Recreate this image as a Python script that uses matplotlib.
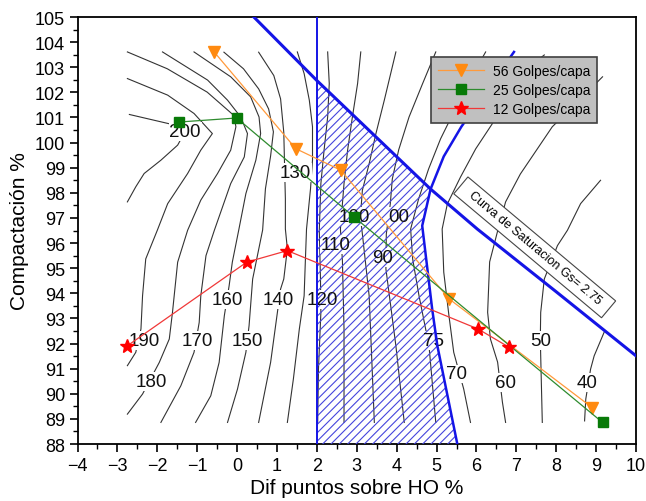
import matplotlib.pyplot as plt
from matplotlib.patches import Polygon
from matplotlib.ticker import MultipleLocator

plt.rcParams['font.family'] = ['Liberation Sans', 'DejaVu Sans']
plt.rcParams['hatch.linewidth'] = 0.8

# Puntos de ensayo (dif. sobre HO %, compactacion %)
x56 = [-0.57, 1.47, 2.60, 5.32, 8.90]
y56 = [103.60, 99.76, 98.90, 93.77, 89.45]
x25 = [-1.45, -0.01, 2.93, 9.16]
y25 = [100.82, 100.98, 97.04, 88.86]
x12 = [-2.77, 0.24, 1.26, 6.04, 6.82]
y12 = [91.89, 95.24, 95.70, 92.58, 91.85]

# Curva de saturacion y limites de la zona
sat_x = [0.42, 2.0, 4.85, 6.02, 8.0, 10.0]
sat_y = [105.0, 102.47, 98.15, 96.56, 94.06, 91.51]
lim_x = [6.94, 5.62, 5.18, 4.85, 4.64, 4.89, 5.02, 5.52]
lim_y = [103.61, 100.63, 99.45, 98.15, 96.69, 93.37, 91.91, 88.0]
ho_x = 2.0

# Curvas de nivel (isolineas)
c200 = [(-2.70, 101.12), (-1.70, 100.75), (-1.30, 100.45), (-1.49, 99.90), (-1.91, 99.30),
        (-2.33, 98.77), (-2.54, 98.24), (-2.75, 97.64)]
c190 = [(-2.75, 102.55), (-1.74, 101.89), (-1.08, 101.16), (-0.62, 100.36), (-0.91, 99.70),
        (-1.24, 98.77), (-1.74, 97.57), (-2.00, 96.51), (-2.29, 95.37), (-2.37, 93.90),
        (-2.41, 92.58), (-2.54, 91.65), (-2.75, 91.12)]
c180 = [(-2.75, 103.61), (-1.75, 102.94), (-0.75, 102.01), (-0.08, 101.08), (-0.03, 100.63),
        (-0.16, 99.70), (-0.49, 98.77), (-0.91, 97.71), (-1.24, 96.51), (-1.49, 95.24),
        (-1.62, 93.24), (-1.70, 92.18), (-1.95, 91.25), (-2.37, 89.99), (-2.75, 89.19)]
c170 = [(-1.87, 103.61), (-0.74, 102.49), (-0.24, 101.69), (0.09, 101.02), (0.26, 100.36),
        (0.18, 99.43), (-0.16, 98.37), (-0.57, 96.51), (-0.78, 95.50), (-0.91, 93.90),
        (-0.95, 92.84), (-1.08, 91.65), (-1.41, 90.32), (-1.91, 88.86)]
c160 = [(-1.08, 103.61), (-0.16, 102.62), (0.34, 101.82), (0.55, 101.02), (0.59, 100.36),
        (0.47, 99.30), (0.22, 97.97), (0.04, 96.51), (-0.12, 95.24), (-0.20, 94.30),
        (-0.32, 93.11), (-0.45, 91.25), (-0.66, 89.92), (-1.04, 88.86)]
c150 = [(-0.33, 103.60), (0.16, 102.94), (0.54, 102.14), (0.79, 101.34), (0.91, 100.43),
        (0.84, 99.47), (0.71, 98.16), (0.64, 96.52), (0.39, 94.57), (0.30, 92.71),
        (0.22, 91.65), (0.01, 90.19), (-0.24, 88.86)]
c140 = [(0.54, 103.60), (0.92, 102.67), (1.09, 101.74), (1.17, 100.41), (1.19, 99.08),
        (1.21, 97.76), (1.21, 96.56), (1.26, 95.77), (1.17, 94.57), (1.09, 94.17),
        (1.01, 93.24), (0.84, 91.25), (0.54, 88.86)]
c130 = [(1.51, 103.61), (1.68, 102.75), (1.81, 101.69), (1.89, 100.63), (1.89, 99.30),
        (1.84, 98.16), (1.74, 96.56), (1.71, 95.25), (1.68, 93.90), (1.56, 92.58),
        (1.41, 90.58), (1.26, 88.86)]
c120 = [(2.27, 103.61), (2.31, 102.35), (2.27, 101.02), (2.18, 99.70), (2.10, 98.37),
        (2.06, 96.51), (2.09, 94.57), (2.10, 93.24), (2.04, 91.00), (2.02, 88.86)]
c110 = [(3.10, 103.61), (3.02, 102.35), (2.89, 101.02), (2.77, 99.70), (2.68, 98.37),
        (2.59, 96.56), (2.64, 95.29), (2.68, 92.58), (2.68, 88.86)]
c100 = [(3.98, 103.61), (3.85, 102.75), (3.69, 101.69), (3.48, 100.36), (3.31, 99.16),
        (3.14, 98.10), (3.09, 97.04), (3.14, 96.36), (3.31, 93.90), (3.44, 88.86)]
c90 = [(4.98, 103.61), (4.65, 102.35), (4.31, 101.02), (4.05, 99.71), (3.89, 98.55),
       (3.84, 97.56), (3.74, 96.36), (3.73, 94.97), (3.98, 91.91), (4.19, 88.86)]
c80 = [(6.23, 103.61), (5.85, 102.54), (5.47, 101.34), (5.10, 100.15), (4.80, 98.95),
       (4.55, 97.76), (4.35, 96.56), (4.40, 95.37), (4.56, 93.90), (4.81, 91.91), (4.98, 88.86)]
c70 = [(7.70, 103.49), (7.10, 102.74), (6.73, 101.94), (6.40, 100.76), (5.98, 99.75),
       (5.60, 98.63), (5.27, 97.56), (5.14, 96.56), (5.18, 94.84), (5.31, 93.11),
       (5.43, 91.65), (5.68, 90.19), (5.85, 88.86)]
c60 = [(9.16, 102.62), (8.61, 101.74), (7.90, 100.63), (7.10, 98.75), (6.73, 97.64),
       (6.53, 96.48), (6.33, 95.25), (6.28, 93.24), (6.35, 92.18), (6.53, 91.26),
       (6.65, 89.67), (6.73, 88.86)]
c50 = [(9.11, 98.50), (8.61, 97.57), (8.28, 96.51), (8.03, 95.90), (7.70, 94.57),
       (7.61, 93.24), (7.60, 92.18), (7.61, 91.51), (7.65, 88.86)]
c40 = [(9.20, 92.45), (8.95, 91.51), (8.86, 90.98), (8.74, 89.79), (8.71, 88.92)]

lbl_txt = ['200', '130', '100', '00', '110', '90', '160', '140', '120',
           '190', '170', '150', '75', '50', '180', '70', '60', '40']
lbl_x = [-1.30, 1.45, 2.95, 4.05, 2.47, 3.64, -0.24, 1.03, 2.14,
         -2.32, -1.00, 0.26, 4.93, 7.60, -2.15, 5.50, 6.73, 8.76]
lbl_y = [100.43, 98.80, 97.05, 97.07, 95.96, 95.43, 93.77, 93.77, 93.77,
         92.11, 92.11, 92.11, 92.11, 92.11, 90.50, 90.79, 90.45, 90.45]

blue = '#1414e6'

fig = plt.figure(figsize=(6.46, 5.02), dpi=100)
ax = fig.add_axes([0.120, 0.1135, 0.8646, 0.8506])

for c in [c200, c190, c180, c170, c160, c150, c140, c130, c120,
          c110, c100, c90, c80, c70, c60, c50, c40]:
    ax.plot([p[0] for p in c], [p[1] for p in c], color='#333333', lw=0.8, zorder=1)

# huecos blancos bajo las etiquetas de las isolineas
for t, x, y in zip(lbl_txt, lbl_x, lbl_y):
    ax.text(x, y, t, fontsize=13.5, ha='center', va='center', color='white',
            bbox=dict(boxstyle='square,pad=0.05', fc='white', ec='none'), zorder=2)

# zona rayada entre HO+2 y la curva de saturacion
zona = [(ho_x, 88.0), (ho_x, sat_y[1]), (sat_x[2], sat_y[2])] + \
       list(zip(lim_x[4:], lim_y[4:]))
ax.add_patch(Polygon(zona, closed=True, facecolor='none', edgecolor='#4646dc',
                     hatch='////', lw=0, zorder=3))

for t, x, y in zip(lbl_txt, lbl_x, lbl_y):
    ax.text(x, y, t, fontsize=13.5, ha='center', va='center', color='#111111', zorder=3.5)

ax.axvline(ho_x, color=blue, lw=1.4, zorder=4)
ax.plot(sat_x, sat_y, color=blue, lw=2.2, zorder=4)
ax.plot(lim_x, lim_y, color=blue, lw=1.8, zorder=4)

ax.plot(x56, y56, color='#ff9a3c', lw=0.9, marker='v', ms=8, mfc='#ff8a10', mec='#ff8a10',
        label='56 Golpes/capa', zorder=5)
ax.plot(x25, y25, color='#2e8b2e', lw=0.9, marker='s', ms=6.5, mfc='#087a08', mec='#087a08',
        label='25 Golpes/capa', zorder=5)
ax.plot(x12, y12, color='#f03838', lw=0.9, marker='*', ms=10, mfc='#ff0000', mec='#ff0000',
        label='12 Golpes/capa', zorder=5)

ax.text(7.46, 95.83, '  Curva de Saturacion Gs= 2.75  ', fontsize=9, rotation=-40,
        rotation_mode='anchor', ha='center', va='center', zorder=6,
        bbox=dict(boxstyle='square,pad=0.4', fc='white', ec='#444444', lw=0.8))

leg = ax.legend(loc='upper right', bbox_to_anchor=(0.930, 0.906), fontsize=10,
                fancybox=False, framealpha=1, borderaxespad=0, handlelength=3.3,
                handletextpad=0.6, labelspacing=0.35, borderpad=0.5)
leg.get_frame().set_facecolor('#c0c0c0')
leg.get_frame().set_edgecolor('#404040')
leg.get_frame().set_linewidth(1.2)
leg.set_zorder(7)

ax.set_xlim(-4, 10)
ax.set_ylim(88, 105)
ax.set_xticks(range(-4, 11))
ax.set_yticks(range(88, 106))
ax.xaxis.set_minor_locator(MultipleLocator(0.5))
ax.yaxis.set_minor_locator(MultipleLocator(0.5))
ax.tick_params(which='major', direction='out', length=6, width=1.2, labelsize=13, pad=3)
ax.tick_params(which='minor', direction='out', length=3.5, width=1.0)
for s in ax.spines.values():
    s.set_linewidth(1.3)

ax.set_xlabel('Dif puntos sobre HO %', fontsize=15, labelpad=3)
ax.set_ylabel('Compactación %', fontsize=15, labelpad=4)

fig.savefig('out.png', dpi=100, facecolor='white')
